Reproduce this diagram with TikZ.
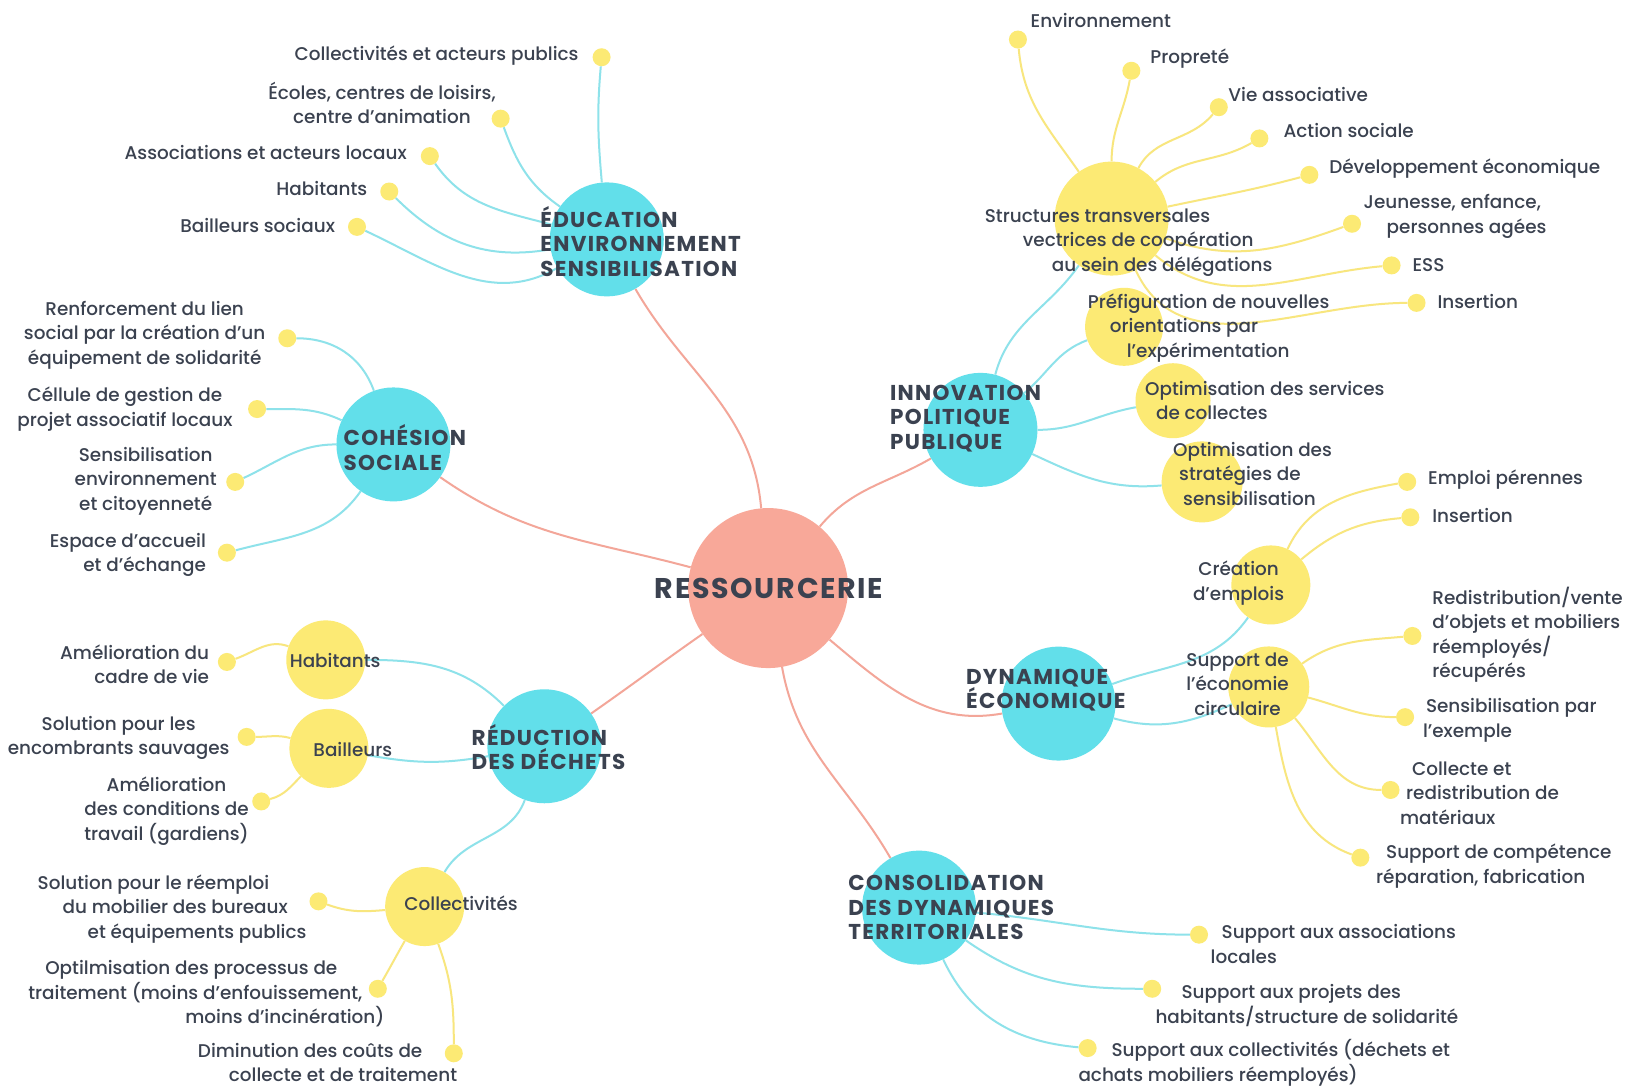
\documentclass[tikz,border=0pt]{standalone}
\usepackage{fontspec}
\setmainfont{Poppins}[UprightFont={* Medium},BoldFont={* Bold}]
\newfontfamily\headfont{Poppins}[UprightFont={* Bold},LetterSpace=6]
\usetikzlibrary{backgrounds}
\definecolor{cy}{HTML}{62DFEA}
\definecolor{cyl}{HTML}{8EE2EA}
\definecolor{ye}{HTML}{FCEA74}
\definecolor{yel}{HTML}{F8E67E}
\definecolor{sa}{HTML}{F8A899}
\definecolor{sal}{HTML}{F3A699}
\definecolor{tx}{HTML}{3B4250}
\begin{document}
\begin{tikzpicture}[x=1.0408pt,y=-1.0408pt,
 big/.style={circle,fill=cy,minimum size=114pt,inner sep=0pt},
 mid/.style={circle,fill=ye,minimum size=79pt,inner sep=0pt},
 dot/.style={circle,fill=ye,minimum size=18pt,inner sep=0pt},
 lbl/.style={text=tx,font=\fontsize{18.4}{24.5}\selectfont,inner sep=0pt},
 lw/.style={lbl,anchor=west,align=left},
 le/.style={lbl,anchor=east,align=right},
 lc/.style={lbl,align=center},
 hd/.style={text=tx,font=\headfont\fontsize{21.5}{24.5}\selectfont,align=left,anchor=west,inner sep=0pt},
 sl/.style={draw=sal,line width=2pt},
 cl/.style={draw=cyl,line width=2pt},
 yl/.style={draw=yel,line width=2pt},
]
\useasboundingbox (0,0) rectangle (1568,1045);
% ---------- main circles
\node[circle,fill=sa,minimum size=160pt,inner sep=0pt] (R) at (738,565) {};
\node[text=tx,font=\headfont\fontsize{28.5}{30}\selectfont,inner sep=0pt] (Rt) at (739,565) {RESSOURCERIE};
\node[big] (E) at (583,230) {};
\node[big] (C) at (378,427) {};
\node[big] (D) at (523,717) {};
\node[big] (I) at (942,413) {};
\node[big] (Dy) at (1017,676) {};
\node[big] (Co) at (883,872) {};
% ---------- mid circles
\node[mid] (Dh) at (313,634) {};
\node[mid] (Db) at (316,719) {};
\node[mid] (Dc) at (408,871) {};
\node[mid,minimum size=114pt] (Is) at (1068,210) {};
\node[mid,minimum size=78pt] (Ip) at (1080,314) {};
\node[mid,minimum size=75pt] (Io) at (1127,385) {};
\node[mid,minimum size=81pt] (It) at (1155,463) {};
\node[mid] (Dyc) at (1221,562) {};
\node[mid,minimum size=81pt] (Dys) at (1219,660) {};
% ---------- dots
\node[dot] (e1) at (578,55) {};
\node[dot] (e2) at (481,114) {};
\node[dot] (e3) at (413,150) {};
\node[dot] (e4) at (374,184) {};
\node[dot] (e5) at (343,218) {};
\node[dot] (c1) at (276,325) {};
\node[dot] (c2) at (247,393) {};
\node[dot] (c3) at (226,463) {};
\node[dot] (c4) at (218,531) {};
\node[dot] (dh1) at (218,636) {};
\node[dot] (db1) at (237,708) {};
\node[dot] (db2) at (251,770) {};
\node[dot] (dc1) at (306,866) {};
\node[dot] (dc2) at (363,950) {};
\node[dot] (dc3) at (436,1012) {};
\node[dot] (s1) at (978,38) {};
\node[dot] (s2) at (1087,68) {};
\node[dot] (s3) at (1171,103) {};
\node[dot] (s4) at (1210,133) {};
\node[dot] (s5) at (1258,168) {};
\node[dot] (s6) at (1299,215) {};
\node[dot] (s7) at (1337,255) {};
\node[dot] (s8) at (1361,291) {};
\node[dot] (d1) at (1352,463) {};
\node[dot] (d2) at (1355,497) {};
\node[dot] (d3) at (1357,611) {};
\node[dot] (d4) at (1350,689) {};
\node[dot] (d5) at (1336,759) {};
\node[dot] (d6) at (1307,824) {};
\node[dot] (k1) at (1152,898) {};
\node[dot] (k2) at (1107,950) {};
\node[dot] (k3) at (1045,1007) {};
% ---------- headings
\node[hd] (Et) at (519,232) {ÉDUCATION\\ENVIRONNEMENT\\SENSIBILISATION};
\node[hd] (Ct) at (330,430) {COHÉSION\\SOCIALE};
\node[hd] (Dt) at (453,718) {RÉDUCTION\\DES DÉCHETS};
\node[hd] (It0) at (855,402) {INNOVATION\\POLITIQUE\\PUBLIQUE};
\node[hd] (Dyt) at (928,663) {DYNAMIQUE\\ÉCONOMIQUE};
\node[hd] (Cot) at (815,872) {CONSOLIDATION\\DES DYNAMIQUES\\TERRITORIALES};
% ---------- labels EDUCATION
\node[le] (te1) at (556,53) {Collectivités et acteurs publics};
\node[lc] (te2) at (367,99) {Écoles, centres de loisirs,\\centre d’animation};
\node[le] (te3) at (391,147) {Associations et acteurs locaux};
\node[le] (te4) at (353,181) {Habitants};
\node[le] (te5) at (322,217) {Bailleurs sociaux};
% ---------- labels COHESION
\node[lc] (tc1) at (139,322) {Renforcement du lien\\social par la création d’un\\équipement de solidarité};
\node[lc] (tc2) at (120,393) {Céllule de gestion de\\projet associatif locaux};
\node[lc] (tc3) at (140,462) {Sensibilisation\\environnement\\et citoyenneté};
\node[le] (tc4) at (198,533) {Espace d’accueil\\et d’échange};
% ---------- labels REDUCTION
\node[lbl] (tDh) at (322,635) {Habitants};
\node[lbl] (tDb) at (339,720) {Bailleurs};
\node[lbl] (tDc) at (443,868) {Collectivités};
\node[le] (tdh1) at (201,638) {Amélioration du\\cadre de vie};
\node[lc] (tdb1) at (114,709) {Solution pour les\\encombrants sauvages};
\node[lc] (tdb2) at (160,779) {Amélioration\\des conditions de\\travail (gardiens)};
\node[lw] (tdc1) at (36,873) {Solution pour le réemploi\\\hspace*{25pt}du mobilier des bureaux\\\hspace*{50pt}et équipements publics};
\node[lw] (tdc2) at (27,955) {\hspace*{17pt}Optilmisation des processus de\\traitement (moins d’enfouissement,\\\hspace*{157pt}moins d’incinération)};
\node[lw] (tdc3) at (190,1021) {Diminution des coûts de\\\hspace*{31pt}collecte et de traitement};
% ---------- labels INNOVATION
\node[lw] (tIs) at (946,233) {Structures transversales\\\hspace*{38pt}vectrices de coopération\\\hspace*{67pt}au sein des délégations};
\node[lw] (tIp) at (1045,315) {Préfiguration de nouvelles\\\hspace*{22pt}orientations par\\\hspace*{39pt}l’expérimentation};
\node[lw] (tIo) at (1100,385) {Optimisation des services\\\hspace*{11pt}de collectes};
\node[lw] (tIt) at (1127,455) {Optimisation des\\\hspace*{6pt}stratégies de\\\hspace*{10pt}sensibilisation};
\node[lw] (ts1) at (990,20) {Environnement};
\node[lw] (ts2) at (1105,56) {Propreté};
\node[lw] (ts3) at (1180,91) {Vie associative};
\node[lw] (ts4) at (1233,125) {Action sociale};
\node[lw] (ts5) at (1277,162) {Développement économique};
\node[lw] (ts6) at (1310,208) {Jeunesse, enfance,\\\hspace*{23pt}personnes agées};
\node[lw] (ts7) at (1357,255) {ESS};
\node[lw] (ts8) at (1381,290) {Insertion};
% ---------- labels DYNAMIQUE
\node[lc] (tDyc) at (1190,560) {Création\\d’emplois};
\node[lc] (tDys) at (1189,657) {Support de\\l’économie\\circulaire};
\node[lw] (td1) at (1372,461) {Emploi pérennes};
\node[lw] (td2) at (1376,495) {Insertion};
\node[lw] (td3) at (1376,610) {Redistribution/vente\\d’objets et mobiliers\\réemployés/\\récupérés};
\node[lw] (td4) at (1367,692) {\hspace*{3pt}Sensibilisation par\\l’exemple};
\node[lw] (td5) at (1345,762) {\hspace*{12pt}Collecte et\\\hspace*{6pt}redistribution de\\matériaux};
\node[lw] (td6) at (1322,832) {\hspace*{10pt}Support de compétence\\réparation, fabrication};
% ---------- labels CONSOLIDATION
\node[lw] (tk1) at (1163,907) {\hspace*{11pt}Support aux associations\\locales};
\node[lw] (tk2) at (1110,966) {\hspace*{26pt}Support aux projets des\\habitants/structure de solidarité};
\node[lw] (tk3) at (1036,1021) {\hspace*{33pt}Support aux collectivités (déchets et\\achats mobiliers réemployés)};
% ---------- connectors
\begin{scope}[on background layer]
\fill[white] (0,0) rectangle (1568,1045);
\draw[sl] (R) to[out=95,in=-60] (E);
\draw[sl] (R) to[out=165,in=-35] (C);
\draw[sl] (R) to[out=215,in=35] (D);
\draw[sl] (R) to[out=50,in=210] (I);
\draw[sl] (R) to[out=-40,in=190] (Dy);
\draw[sl] (R) to[out=-80,in=120] (Co);
\draw[cl] (e1) to[out=-95,in=95] (E);
\draw[cl] (e2) to[out=-70,in=145] (E);
\draw[cl] (e3) to[out=-55,in=165] (E);
\draw[cl] (e4) to[out=-45,in=190] (E);
\draw[cl] (e5) to[out=-25,in=210] (E);
\draw[cl] (c1) to[out=0,in=110] (C);
\draw[cl] (c2) to[out=0,in=155] (C);
\draw[cl] (c3) to[out=25,in=180] (C);
\draw[cl] (c4) to[out=15,in=235] (C);
\draw[cl] (Dh) to[out=0,in=135] (D);
\draw[cl] (Db) to[out=-10,in=190] (D);
\draw[cl] (Dc) to[out=60,in=250] (D);
\draw[yl] (dh1) to[out=20,in=160] (Dh);
\draw[yl] (db1) to[out=0,in=165] (Db);
\draw[yl] (db2) to[out=15,in=225] (Db);
\draw[yl] (dc1) to[out=-20,in=185] (Dc);
\draw[yl] (dc2) to[out=60,in=240] (Dc);
\draw[yl] (dc3) to[out=90,in=-70] (Dc);
\draw[cl] (I) to[out=75,in=235] (Is);
\draw[cl] (I) to[out=40,in=200] (Ip);
\draw[cl] (I) to[out=0,in=190] (Io);
\draw[cl] (I) to[out=-25,in=185] (It);
\draw[yl] (Is) to[out=125,in=-85] (s1);
\draw[yl] (Is) to[out=90,in=-100] (s2);
\draw[yl] (Is) to[out=62,in=-130] (s3);
\draw[yl] (Is) to[out=40,in=-150] (s4);
\draw[yl] (Is) to[out=12,in=-165] (s5);
\draw[yl] (Is) to[out=-20,in=200] (s6);
\draw[yl] (Is) to[out=-40,in=185] (s7);
\draw[yl] (Is) to[out=-65,in=180] (s8);
\draw[cl] (Dy) to[out=20,in=235] (Dyc);
\draw[cl] (Dy) to[out=-15,in=205] (Dys);
\draw[yl] (Dyc) to[out=65,in=190] (d1);
\draw[yl] (Dyc) to[out=40,in=185] (d2);
\draw[yl] (Dys) to[out=35,in=185] (d3);
\draw[yl] (Dys) to[out=-15,in=180] (d4);
\draw[yl] (Dys) to[out=-50,in=180] (d5);
\draw[yl] (Dys) to[out=-80,in=160] (d6);
\draw[cl] (Co) to[out=-5,in=180] (k1);
\draw[cl] (Co) to[out=-35,in=180] (k2);
\draw[cl] (Co) to[out=-65,in=175] (k3);
\end{scope}
\end{tikzpicture}
\end{document}
